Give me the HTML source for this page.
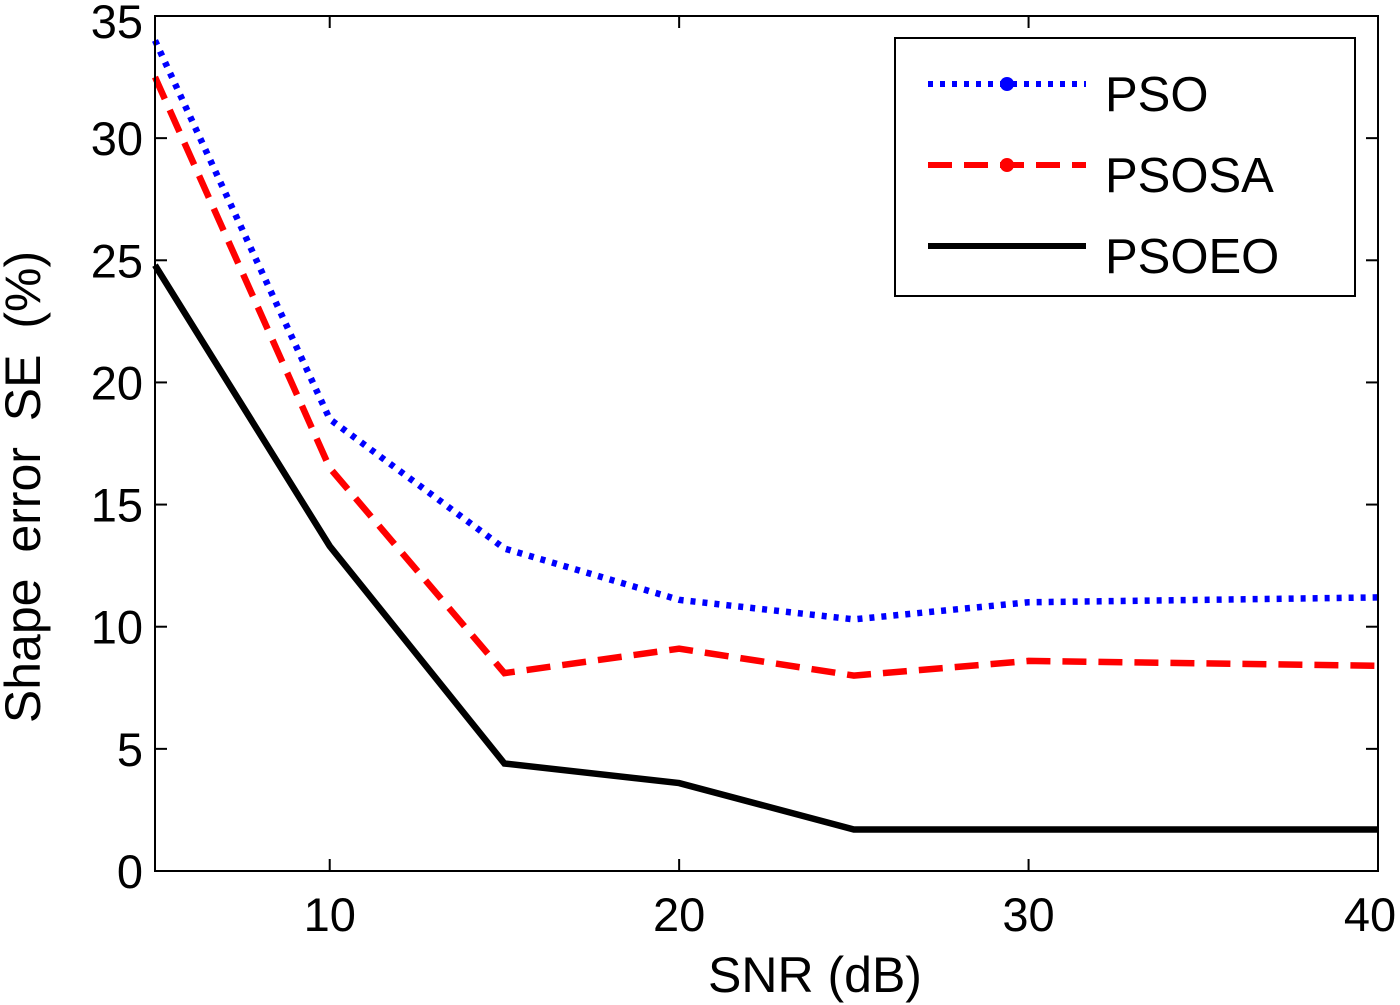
<!DOCTYPE html>
<html><head><meta charset="utf-8"><style>
html,body{margin:0;padding:0;background:#fff;}
svg{display:block;font-family:"Liberation Sans",Arial,sans-serif;}
</style></head><body>
<svg id="chart" width="1400" height="1005" viewBox="0 0 1400 1005">
<g id="grid"></g>
<g id="series"></g>
<rect x="155" y="16" width="1223" height="855" fill="none" stroke="#000" stroke-width="2"/>
<text x="815" y="992" font-size="50" text-anchor="middle">SNR (dB)</text>
<text transform="translate(40,487) rotate(-90)" font-size="50" text-anchor="middle" word-spacing="12">Shape error SE (%)</text>
<g>
<rect x="895" y="38" width="460" height="258" fill="#fff" stroke="#000" stroke-width="2"/>
<g>
<line x1="928" y1="84" x2="1086" y2="84" stroke="#0000ff" stroke-width="6" stroke-dasharray="5,7"/>
<circle cx="1007" cy="84" r="7" fill="#0000ff"/>
<text x="1105" y="111" font-size="49">PSO</text></g>
<g>
<line x1="928" y1="165" x2="1086" y2="165" stroke="#ff0000" stroke-width="6" stroke-dasharray="24,12"/>
<circle cx="1007" cy="165" r="7" fill="#ff0000"/>
<text x="1105" y="192" font-size="49">PSOSA</text></g>
<g>
<line x1="928" y1="246" x2="1086" y2="246" stroke="#000" stroke-width="6"/>
<text x="1105" y="273" font-size="49">PSOEO</text></g>
</g>
</svg>
<script>
const snr = [5, 10, 15, 20, 25, 30, 35, 40];
const pso = [34, 18.5, 13.2, 11.1, 10.3, 11.0, 11.1, 11.2];
const psosa = [32.5, 16.5, 8.1, 9.1, 8.0, 8.6, 8.5, 8.4];
const psoeo = [24.8, 13.3, 4.4, 3.6, 1.7, 1.7, 1.7, 1.7];
const xTicks = [10, 20, 30, 40];
const yTicks = [0, 5, 10, 15, 20, 25, 30, 35];

const X0 = 155, X1 = 1378, Y0 = 871, Y1 = 16;
const xs = v => X0 + (v - 5) / 35 * (X1 - X0);
const ys = v => Y0 - v / 35 * (Y0 - Y1);
const NS = "http://www.w3.org/2000/svg";
const grid = document.getElementById('grid');
const ser = document.getElementById('series');
function mk(tag, attrs, parent) {
  const e = document.createElementNS(NS, tag);
  for (const k in attrs) e.setAttribute(k, attrs[k]);
  parent.appendChild(e); return e;
}
xTicks.forEach(t => {
  const x = xs(t);
  const l1 = mk('line', {x1: x, x2: x, y1: Y0, y2: Y0 - 12, stroke: '#000', 'stroke-width': 2}, grid);
  
  
  mk('line', {x1: x, x2: x, y1: Y1, y2: Y1 + 12, stroke: '#000', 'stroke-width': 2}, grid);
  const tx = mk('text', {x: t === 40 ? x - 8 : x, y: 931, 'font-size': 47, 'text-anchor': 'middle'}, grid);
  tx.textContent = t;
  
  
});
yTicks.forEach(t => {
  const y = ys(t);
  const l1 = mk('line', {x1: X0, x2: X0 + 12, y1: y, y2: y, stroke: '#000', 'stroke-width': 2}, grid);
  
  
  mk('line', {x1: X1, x2: X1 - 12, y1: y, y2: y, stroke: '#000', 'stroke-width': 2}, grid);
  const tx = mk('text', {x: 143, y: t === 35 ? y + 22 : y + 17, 'font-size': 47, 'text-anchor': 'end'}, grid);
  tx.textContent = t;
  
  
});
function line(vals, color, dash, name) {
  const pts = snr.map((s, i) => xs(s) + ',' + ys(vals[i])).join(' ');
  const p = mk('polyline', {points: pts, fill: 'none', stroke: color, 'stroke-width': 6.5, 'stroke-dasharray': dash, 'stroke-linejoin': 'miter'}, ser);
  
  
}
line(pso, '#0000ff', '5,7', 'pso-line');
line(psosa, '#ff0000', '24,12', 'psosa-line');
line(psoeo, '#000000', 'none', 'psoeo-line');
</script>
</body></html>
